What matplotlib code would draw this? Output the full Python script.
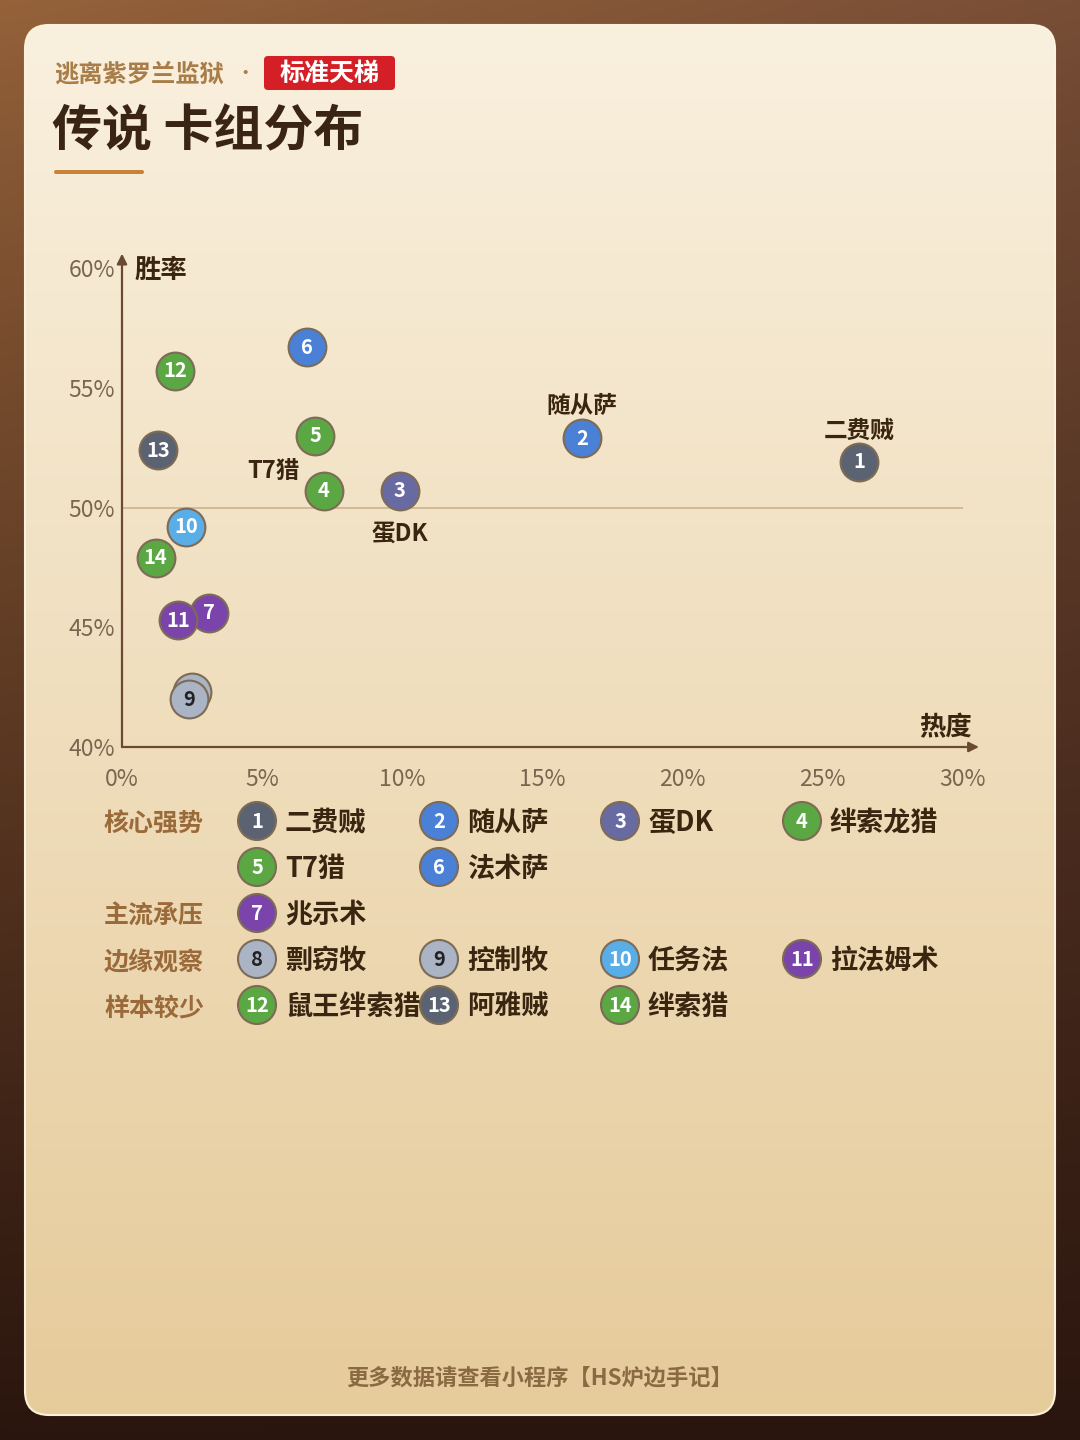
import numpy as np
import matplotlib
matplotlib.use('Agg')
import matplotlib.pyplot as plt
from matplotlib.patches import FancyBboxPatch, Circle

plt.rcParams['font.family'] = ['Noto Sans CJK SC', 'DejaVu Sans']

W, H = 1080, 1440

# ---- data ----
deck_ids = list(range(1, 15))
deck_names = ['二费贼', '随从萨', '蛋DK', '绊索龙猎', 'T7猎', '法术萨', '兆示术',
              '剽窃牧', '控制牧', '任务法', '拉法姆术', '鼠王绊索猎', '阿雅贼', '绊索猎']
popularity = [26.3, 16.4, 9.9, 7.2, 6.9, 6.6, 3.1, 2.5, 2.4, 2.3, 2.0, 1.9, 1.3, 1.2]
winrate = [51.9, 52.9, 50.7, 50.7, 53.0, 56.7, 45.6, 42.3, 42.0, 49.2, 45.3, 55.7, 52.4, 47.9]
tiers = ['核心强势'] * 6 + ['主流承压'] + ['边缘观察'] * 4 + ['样本较少'] * 3
tier_order = ['核心强势', '主流承压', '边缘观察', '样本较少']
x_ticks = [0, 5, 10, 15, 20, 25, 30]
y_ticks = [40, 45, 50, 55, 60]
baseline = 50

# ---- styles ----
c_dark = '#5b6372'
c_blue = '#4a80d6'
c_slate = '#686aa2'
c_green = '#5aa743'
c_purple = '#7a44aa'
c_gray = '#aab4c4'
c_sky = '#5aaee8'
deck_colors = [c_dark, c_blue, c_slate, c_green, c_green, c_blue, c_purple,
               c_gray, c_gray, c_sky, c_purple, c_green, c_dark, c_green]
num_colors = ['#222222' if c == c_gray else 'white' for c in deck_colors]
edge = '#7d6b55'
ink = '#3a2510'
# labels drawn next to some points: id -> offset in points
callouts = {1: (0, 23), 2: (0, 23), 3: (0, -31), 5: (-30, -26)}

fig = plt.figure(figsize=(W / 100, H / 100), dpi=100)

# ---- background / card ----
ov = fig.add_axes([0, 0, 1, 1])
ov.set_xlim(0, W)
ov.set_ylim(H, 0)
ov.axis('off')

yy, xx = np.mgrid[0:H, 0:W]
tx, ty = xx / W, yy / H
tl = np.array([0x95, 0x62, 0x3a]) / 255
tr = np.array([0x78, 0x4e, 0x36]) / 255
bot = np.array([0x2a, 0x15, 0x0e]) / 255
top = tl[None, None, :] * (1 - tx[..., None]) + tr[None, None, :] * tx[..., None]
t = (ty ** 0.9)[..., None]
bg = top * (1 - t) + bot[None, None, :] * t
ov.imshow(bg, extent=[0, W, H, 0], zorder=0)

card = FancyBboxPatch((25, 25), 1030, 1390, boxstyle='round,pad=0,rounding_size=24',
                      facecolor='none', edgecolor='#fbf1dc', linewidth=1.5, zorder=2)
ov.add_patch(card)
ct = np.linspace(0, 1, 256)[:, None, None]
ctop = np.array([0xf9, 0xf0, 0xde]) / 255
cbot = np.array([0xe6, 0xcb, 0x9b]) / 255
cgrad = ctop * (1 - ct) + cbot * ct
cgrad = np.repeat(cgrad, 4, axis=1)
im = ov.imshow(cgrad, extent=[25, 1055, 1415, 25], aspect='auto', zorder=1)
im.set_clip_path(card)

# ---- header ----
ov.text(54, 74, '逃离紫罗兰监狱', fontsize=17.5, fontweight='bold', color='#a87d48',
        va='center', ha='left', zorder=3)
ov.text(245, 74, '•', fontsize=14, color='#a87d48', va='center', ha='center', zorder=3)
ov.add_patch(FancyBboxPatch((264, 56), 131, 34, boxstyle='round,pad=0,rounding_size=4',
                            facecolor='#d41f26', edgecolor='none', zorder=3))
ov.text(329.5, 74, '标准天梯', fontsize=18, fontweight='bold', color='white',
        va='center', ha='center', zorder=4)
ov.text(52, 132, '传说 卡组分布', fontsize=36, fontweight='bold', color='#3a2515',
        va='center', ha='left', zorder=3)
ov.add_patch(FancyBboxPatch((54, 170), 90, 4, boxstyle='round,pad=0,rounding_size=2',
                            facecolor='#c8823a', edgecolor='none', zorder=3))

# ---- scatter chart ----
x0, x1, y0, y1 = 122, 963, 268, 747
ax = fig.add_axes([x0 / W, 1 - y1 / H, (x1 - x0) / W, (y1 - y0) / H])
ax.set_facecolor('none')
ax.set_xlim(x_ticks[0], x_ticks[-1])
ax.set_ylim(y_ticks[0], y_ticks[-1])
for s in ax.spines.values():
    s.set_visible(False)
ax.set_xticks(x_ticks)
ax.set_xticklabels([f'{v}%' for v in x_ticks])
ax.set_yticks(y_ticks)
ax.set_yticklabels([f'{v}%' for v in y_ticks])
ax.tick_params(length=0, labelsize=16.5, labelcolor='#7a6650')
ax.tick_params(axis='x', pad=15)
ax.tick_params(axis='y', pad=5)

axis_c = '#6b4a32'
ax.annotate('', xy=(0, 1.03), xytext=(0, 0), xycoords='axes fraction',
            arrowprops=dict(arrowstyle='-|>', color=axis_c, lw=1.6, mutation_scale=15,
                            shrinkA=0, shrinkB=0), annotation_clip=False)
ax.annotate('', xy=(1.019, 0), xytext=(0, 0), xycoords='axes fraction',
            arrowprops=dict(arrowstyle='-|>', color=axis_c, lw=1.6, mutation_scale=15,
                            shrinkA=0, shrinkB=0), annotation_clip=False)
ax.text(0.015, 0.995, '胜率', transform=ax.transAxes, fontsize=19, fontweight='bold',
        color=ink, ha='left', va='center')
ax.text(0.979, 0.04, '热度', transform=ax.transAxes, fontsize=19, fontweight='bold',
        color=ink, ha='center', va='center')

ax.plot([x_ticks[0], x_ticks[-1]], [baseline, baseline], color='#cdb48e', lw=1.2, zorder=1)

for i, (d, x, y) in enumerate(zip(deck_ids, popularity, winrate)):
    z = 3 + i * 0.1
    ax.scatter([x], [y], s=740, color=deck_colors[i], edgecolor=edge, linewidth=1.5,
               zorder=z, clip_on=False)
    ax.text(x, y, str(d), fontsize=14.5, fontweight='bold', color=num_colors[i],
            ha='center', va='center', zorder=z + 0.05)
    if d in callouts:
        ax.annotate(deck_names[i], (x, y), xytext=callouts[d], textcoords='offset points',
                    fontsize=17, fontweight='bold', color=ink, ha='center', va='center',
                    zorder=5)

# ---- legend ----
col_x = [257, 439, 620, 802]
row_y = 821
for tier in tier_order:
    idx = [i for i, tt in enumerate(tiers) if tt == tier]
    ov.text(104, row_y + 4, tier, fontsize=18, fontweight='bold', color='#9a6a3a',
            ha='left', va='center', zorder=3)
    for k, i in enumerate(idx):
        if k > 0 and k % 4 == 0:
            row_y += 46
        cx = col_x[k % 4]
        ov.add_patch(Circle((cx, row_y), 19, facecolor=deck_colors[i], edgecolor=edge,
                            linewidth=1.5, zorder=3))
        ov.text(cx, row_y, str(deck_ids[i]), fontsize=14.5, fontweight='bold',
                color=num_colors[i], ha='center', va='center', zorder=4)
        ov.text(cx + 28, row_y + 2, deck_names[i], fontsize=19.5, fontweight='bold',
                color=ink, ha='left', va='center', zorder=4)
    row_y += 46

# ---- footer ----
ov.text(540, 1378, '更多数据请查看小程序【HS炉边手记】', fontsize=16, fontweight='bold',
        style='italic', color='#8a6a42', ha='center', va='center', zorder=3)

fig.savefig('out.png', dpi=100)
